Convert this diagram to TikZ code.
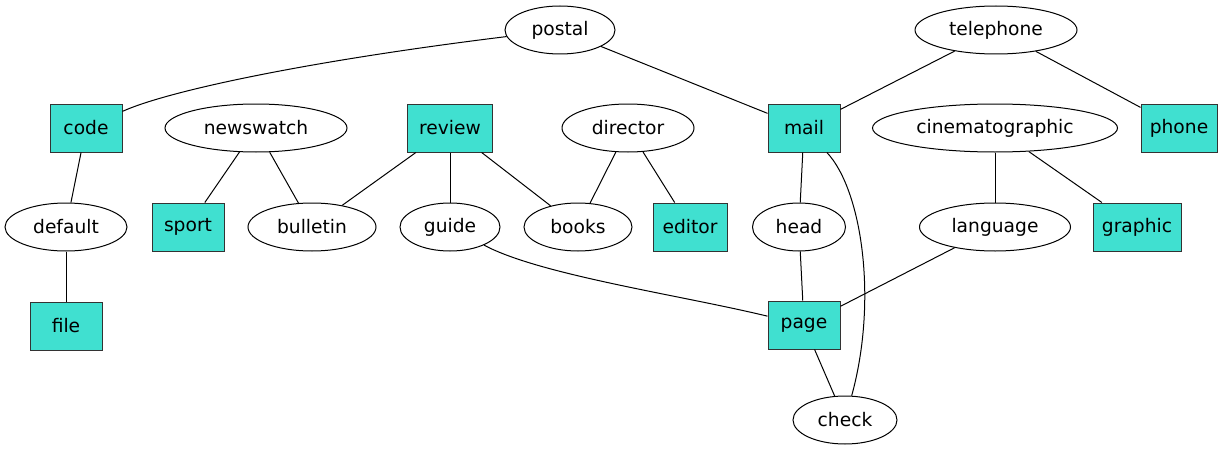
\documentclass[tikz,border=0pt]{standalone}
\usepackage{fontspec}
\setmainfont{DejaVu Sans}
\usetikzlibrary{shapes.geometric}
\definecolor{turq}{HTML}{40E0D0}
\begin{document}
\begin{tikzpicture}[
    x=0.75pt, y=-0.75pt,
    font=\fontsize{14}{16}\selectfont,
    word/.style={ellipse, draw, line width=0.75pt, inner sep=0pt, minimum height=36pt, minimum width=#1},
    term/.style={rectangle, draw=black!80, line width=0.75pt, fill=turq, inner sep=0pt, minimum height=36pt, minimum width=#1},
    link/.style={line width=0.75pt}
]
\useasboundingbox (0,0) rectangle (1224,453);

% top row
\node[word=82.5pt] (postal) at (560,30) {postal};
\node[word=121.5pt] (telephone) at (996,30) {telephone};

% second row
\node[term=54pt] (code) at (86,128) {code};
\node[word=136.5pt] (newswatch) at (256,128) {newswatch};
\node[term=63.75pt] (review) at (450,128) {review};
\node[word=99pt] (director) at (628,128) {director};
\node[term=54pt] (mail) at (804,128) {mail};
\node[word=183.75pt] (cinematographic) at (995,128) {cinematographic};
\node[term=57pt] (phone) at (1179,128) {phone};

% third row
\node[word=91.5pt] (default) at (66,227) {default};
\node[term=54pt] (sport) at (188,227) {sport};
\node[word=96pt] (bulletin) at (312,227) {bulletin};
\node[word=75pt] (guide) at (450,227) {guide};
\node[word=81pt] (books) at (578,227) {books};
\node[term=55.5pt] (editor) at (690,227) {editor};
\node[word=69.75pt] (head) at (799,227) {head};
\node[word=113.25pt] (language) at (995,227) {language};
\node[term=66pt] (graphic) at (1137,227) {graphic};

% bottom rows
\node[term=54pt] (file) at (66,326) {file};
\node[term=54pt] (page) at (804,325) {page};
\node[word=78pt] (check) at (845,420) {check};

% edges
\draw[link] (postal) .. controls (300,62) and (165,92) .. (code);
\draw[link] (postal) -- (mail);
\draw[link] (telephone) -- (mail);
\draw[link] (telephone) -- (phone);
\draw[link] (code) -- (default);
\draw[link] (default) -- (file);
\draw[link] (newswatch) -- (sport);
\draw[link] (newswatch) -- (bulletin);
\draw[link] (review) -- (bulletin);
\draw[link] (review) -- (guide);
\draw[link] (review) -- (books);
\draw[link] (director) -- (books);
\draw[link] (director) -- (editor);
\draw[link] (mail) -- (head);
\draw[link] (mail) .. controls (862,190) and (878,300) .. (check);
\draw[link] (cinematographic) -- (language);
\draw[link] (cinematographic) -- (graphic);
\draw[link] (guide) .. controls (540,275) and (680,295) .. (page);
\draw[link] (head) -- (page);
\draw[link] (language) -- (page);
\draw[link] (page) -- (check);

\end{tikzpicture}
\end{document}
